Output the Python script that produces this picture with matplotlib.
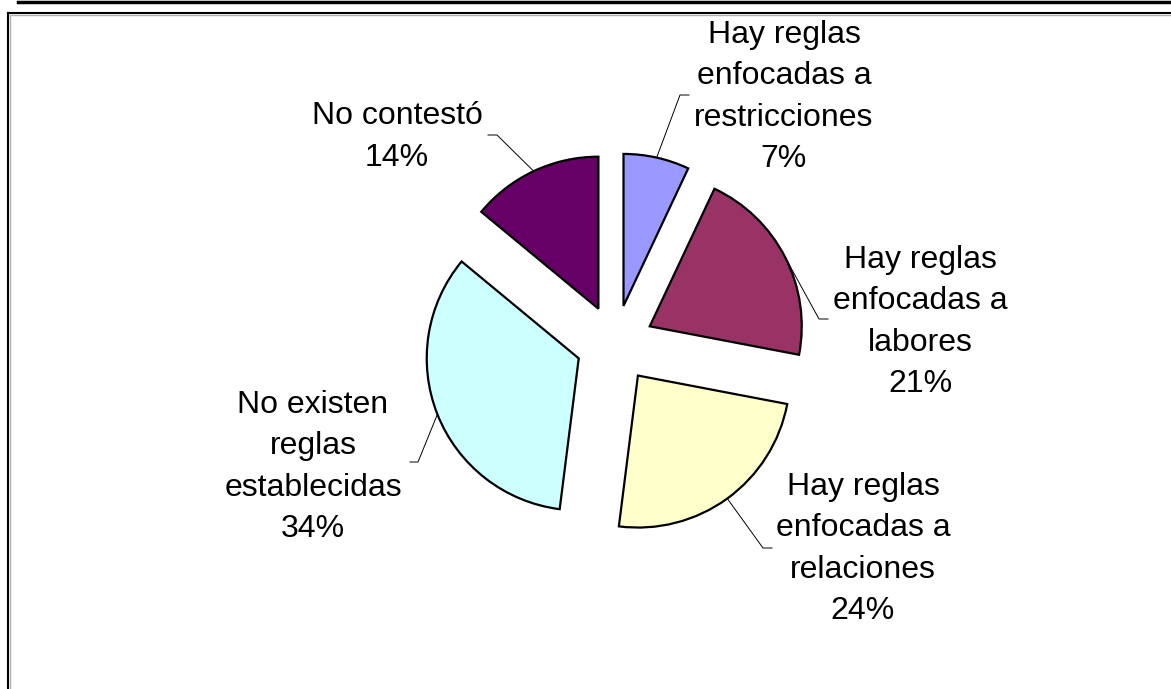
import numpy as np
import matplotlib
matplotlib.use('Agg')
import matplotlib.pyplot as plt
from matplotlib.lines import Line2D

# Chart data
labels = ['Hay reglas\nenfocadas a\nrestricciones',
          'Hay reglas\nenfocadas a\nlabores',
          'Hay reglas\nenfocadas a\nrelaciones',
          'No existen\nreglas\nestablecidas',
          'No contestó']
values = [7, 21, 24, 34, 14]
colors = ['#9999FF', '#993366', '#FFFFCC', '#CCFFFF', '#660066']

W, H = 1171, 689

# Label layout (pixel positions, measured from the top-left)
label_pos = [(784, 97), (920, 322), (863, 549), (313, 467), (397, 137)]
elbow_pos = [(680, 95), (819, 319), (763, 548), (418, 462), (497, 135)]
elbow_end = [(689, 95), (828, 319), (772, 548), (410, 462), (488, 135)]

fig = plt.figure(figsize=(W / 100, H / 100), dpi=100)
ax = fig.add_axes([0, 0, 1, 1])

radius = 152
wedges, _ = ax.pie(values, colors=colors, startangle=90, counterclock=False,
                   center=(615, H - 344), radius=radius,
                   explode=[39] * len(values),
                   wedgeprops={'edgecolor': 'black', 'linewidth': 1.6})

# pie() resets the limits, so set the pixel-sized data space afterwards
ax.set_xlim(0, W)
ax.set_ylim(0, H)
ax.set_aspect('equal')
ax.axis('off')

for w, lab, val, lp, ep, ee in zip(wedges, labels, values, label_pos, elbow_pos, elbow_end):
    # anchor the leader line at the middle of the wedge arc
    mid = np.deg2rad((w.theta1 + w.theta2) / 2)
    cx, cy = w.center
    ax_x = cx + radius * np.cos(mid)
    ax_y = cy + radius * np.sin(mid)
    ax.plot([ax_x, ep[0], ee[0]], [ax_y, H - ep[1], H - ee[1]],
            color='black', linewidth=0.7)
    ax.text(lp[0], H - lp[1], f'{lab}\n{val}%', ha='center', va='center',
            multialignment='center', fontsize=23, family='Liberation Sans',
            linespacing=1.5)

# Frame lines around the chart
fig.add_artist(Line2D([18 / W, 1], [1 - 1.5 / H] * 2, color='black', linewidth=2.5))
fig.add_artist(Line2D([8 / W, 1], [1 - 12.5 / H] * 2, color='black', linewidth=1.5))
fig.add_artist(Line2D([8 / W, 8 / W], [0, 1 - 12.5 / H], color='black', linewidth=1.5))
fig.add_artist(Line2D([10 / W, 1], [1 - 14.5 / H] * 2, color='#b0b0b0', linewidth=1))
fig.add_artist(Line2D([10 / W, 10 / W], [0, 1 - 14.5 / H], color='#b0b0b0', linewidth=1))

fig.savefig('out.png', dpi=100)
